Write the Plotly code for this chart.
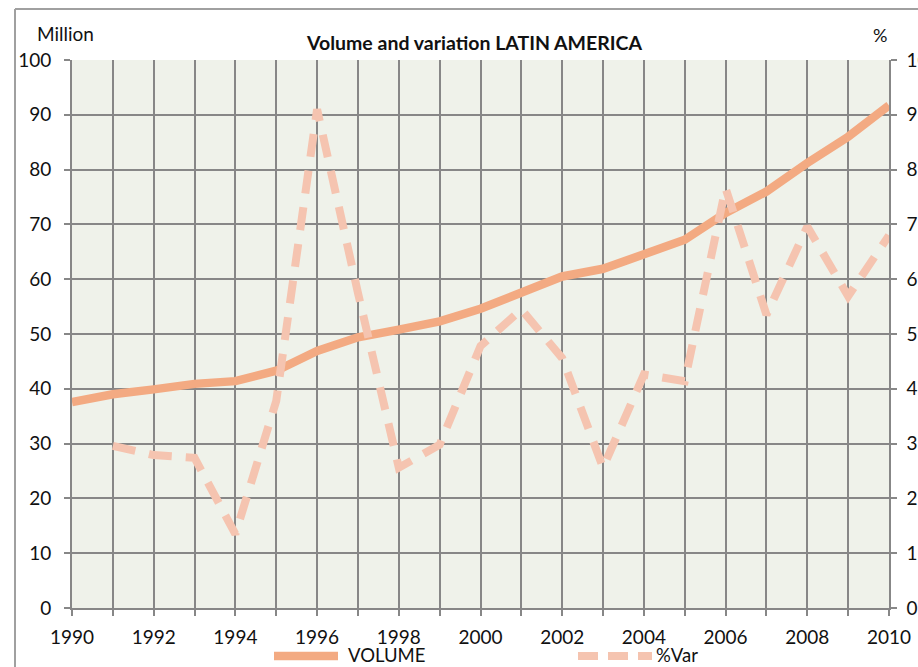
import plotly.graph_objects as go

years = list(range(1990, 2011))
volume = [37.6, 39.0, 39.9, 40.9, 41.4, 43.3, 46.9, 49.4, 50.8, 52.3, 54.6,
          57.5, 60.5, 61.9, 64.5, 67.2, 72.1, 76.0, 81.2, 86.0, 91.7]
var_years = list(range(1991, 2011))
pct_var = [2.96, 2.79, 2.74, 1.35, 3.78, 9.1, 5.75, 2.56, 2.98, 4.78,
           5.45, 4.56, 2.56, 4.26, 4.14, 7.66, 5.35, 6.96, 5.69, 6.8]

x_ticks = list(range(1990, 2011, 2))
left_ticks = list(range(0, 101, 10))
right_ticks = list(range(0, 11, 1))
series_names = ["VOLUME", "%Var"]
series_colors = ["#F3AA82", "#F5C4B0"]

FONT = "Lato, 'Open Sans', sans-serif"
GRID = "#878787"
L, R, T, B = 72, 889, 60, 608
PW, PH = R - L, B - T


def px(x):
    return (x - L) / PW


def py(y):
    return (B - y) / PH


fig = go.Figure()
fig.add_trace(go.Scatter(
    x=years, y=volume, name=series_names[0], mode="lines",
    line=dict(color=series_colors[0], width=8.5),
    yaxis="y"))
fig.add_trace(go.Scatter(
    x=var_years, y=pct_var, name=series_names[1], mode="lines",
    line=dict(color=series_colors[1], width=8, dash="23px,14px"),
    yaxis="y2"))

axis_common = dict(
    ticks="outside", ticklen=6, tickwidth=1.6, tickcolor=GRID,
    showline=True, linecolor=GRID, linewidth=1.6,
    zeroline=False, fixedrange=True, automargin=False)

fig.update_layout(
    width=918, height=667,
    margin=dict(l=L, r=918 - R, t=T, b=667 - B),
    paper_bgcolor="white",
    plot_bgcolor="#EFF2EA",
    font=dict(family=FONT, size=19, color="#111111"),
    showlegend=False,
    xaxis=dict(
        range=[1990, 2010], tickmode="array", tickvals=x_ticks,
        ticktext=[str(v) for v in x_ticks],
        showgrid=True, gridcolor=GRID, gridwidth=1.6,
        ticklabelstandoff=5,
        minor=dict(dtick=1, tick0=1990, showgrid=True, gridcolor=GRID, gridwidth=1.6,
                   ticks="outside", ticklen=6, tickwidth=1.6, tickcolor=GRID),
        **axis_common),
    yaxis=dict(
        range=[0, 100], tickmode="array", tickvals=left_ticks,
        showgrid=True, gridcolor=GRID, gridwidth=1.6,
        ticklabelstandoff=9,
        **axis_common),
    yaxis2=dict(
        range=[0, 10], tickmode="array", tickvals=right_ticks,
        overlaying="y", side="right", showgrid=False,
        ticklabelstandoff=6,
        **axis_common),
    shapes=[
        # chart frame (cropped)
        dict(type="line", xref="paper", yref="paper", x0=px(15), x1=px(930), y0=py(9), y1=py(9),
             line=dict(color="#A0A0A0", width=2)),
        dict(type="line", xref="paper", yref="paper", x0=px(15), x1=px(15), y0=py(9), y1=py(680),
             line=dict(color="#A0A0A0", width=2)),
        # legend samples
        dict(type="line", xref="paper", yref="paper", x0=px(274), x1=px(338), y0=py(656), y1=py(656),
             line=dict(color=series_colors[0], width=8.5)),
        dict(type="line", xref="paper", yref="paper", x0=px(578), x1=px(652), y0=py(656), y1=py(656),
             line=dict(color=series_colors[1], width=8, dash="20px,10px")),
    ],
    annotations=[
        dict(text="<b>Volume and variation LATIN AMERICA</b>", xref="paper", yref="paper",
             x=px(474), y=py(43), xanchor="center", yanchor="middle",
             showarrow=False, font=dict(size=19.5)),
        dict(text="Million", xref="paper", yref="paper",
             x=px(35), y=py(33), xanchor="left", yanchor="middle",
             showarrow=False, font=dict(size=19)),
        dict(text="%", xref="paper", yref="paper",
             x=px(880), y=py(35), xanchor="center", yanchor="middle",
             showarrow=False, font=dict(size=18)),
        dict(text=series_names[0], xref="paper", yref="paper",
             x=px(346), y=py(655), xanchor="left", yanchor="middle",
             showarrow=False, font=dict(size=18.5)),
        dict(text=series_names[1], xref="paper", yref="paper",
             x=px(654), y=py(655), xanchor="left", yanchor="middle",
             showarrow=False, font=dict(size=18.5)),
    ],
)

fig.write_html("out.html", config={"displayModeBar": False},
               post_script="document.body.style.margin='0px';document.body.style.overflow='hidden';")
